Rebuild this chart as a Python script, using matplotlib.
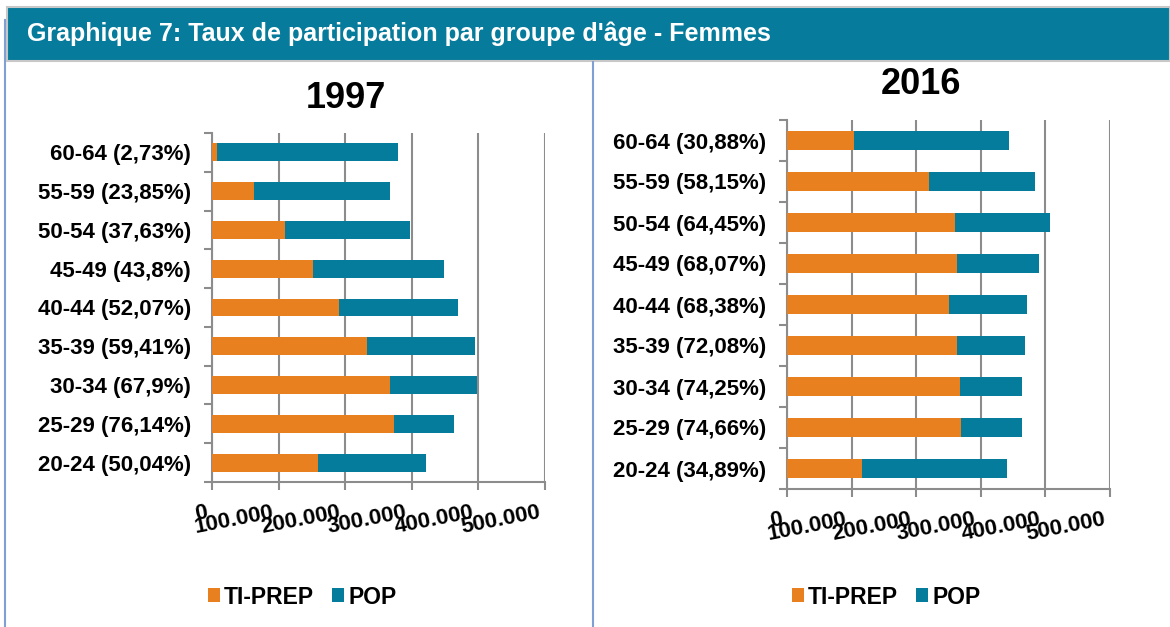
import matplotlib
matplotlib.use("Agg")
import matplotlib.pyplot as plt
from matplotlib.patches import Rectangle, Patch
from matplotlib.lines import Line2D
from matplotlib.transforms import ScaledTranslation

plt.rcParams['font.family'] = ['Liberation Sans', 'DejaVu Sans']

# ---------------- data ----------------
header_title = "Graphique 7: Taux de participation par groupe d'âge - Femmes"
series_names = ["TI-PREP", "POP"]

labels_1997 = ["60-64 (2,73%)", "55-59 (23,85%)", "50-54 (37,63%)", "45-49 (43,8%)",
               "40-44 (52,07%)", "35-39 (59,41%)", "30-34 (67,9%)", "25-29 (76,14%)",
               "20-24 (50,04%)"]
tiprep_1997 = [7000, 63000, 110000, 151000, 191000, 233000, 268000, 274000, 159000]
pop_1997 = [273000, 205000, 187000, 198000, 178000, 162000, 130000, 89000, 162000]

labels_2016 = ["60-64 (30,88%)", "55-59 (58,15%)", "50-54 (64,45%)", "45-49 (68,07%)",
               "40-44 (68,38%)", "35-39 (72,08%)", "30-34 (74,25%)", "25-29 (74,66%)",
               "20-24 (34,89%)"]
tiprep_2016 = [103000, 220000, 260000, 263000, 251000, 263000, 268000, 269000, 116000]
pop_2016 = [240000, 164000, 147000, 127000, 120000, 105000, 96000, 95000, 224000]

x_ticks = [0, 100000, 200000, 300000, 400000, 500000]
x_ticklabels = ["0", "100.000", "200.000", "300.000", "400.000", "500.000"]

# ---------------- style ----------------
ORANGE = "#E8801F"
TEAL = "#067C9C"
HEADER = "#077B9B"
GRID = "#8C8C8C"

W, H = 1170, 627
fig = plt.figure(figsize=(W / 100, H / 100), dpi=100)
fig.patch.set_facecolor("white")

def fx(px):
    return px / W

def fy(py):
    return 1 - py / H

# header band
fig.patches.append(Rectangle((fx(7), fy(61)), fx(1170) - fx(7), fy(7) - fy(61),
                             transform=fig.transFigure, facecolor=HEADER,
                             edgecolor="#C8C8C8", linewidth=1.5, zorder=0))
fig.text(fx(27), fy(34), header_title, color="white", fontsize=18,
         fontweight="bold", va="center", ha="left")

# frame lines
fig.lines.append(Line2D([fx(5), fx(5)], [fy(20), fy(627)], transform=fig.transFigure,
                        color="#7FA0D2", linewidth=1.5))
fig.lines.append(Line2D([fx(593), fx(593)], [fy(62), fy(627)], transform=fig.transFigure,
                        color="#7FA0D2", linewidth=1.5))


def panel(rect_px, labels, ti, pop, title, title_xy, legend_xy):
    x0, y0, x1, y1 = rect_px
    ax = fig.add_axes([fx(x0), fy(y1), fx(x1) - fx(x0), fy(y0) - fy(y1)])
    pos = list(range(len(labels)))
    ax.barh(pos, ti, height=0.46, color=ORANGE, zorder=3, label=series_names[0])
    ax.barh(pos, pop, left=ti, height=0.46, color=TEAL, zorder=3, label=series_names[1])
    ax.set_ylim(len(labels) - 0.5, -0.5)
    ax.set_xlim(0, 500000)
    ax.set_yticks(pos)
    ax.set_yticklabels(labels, fontsize=16, fontweight="bold")
    ax.tick_params(axis="y", which="major", length=0, pad=15)
    ax.set_yticks([p - 0.5 for p in pos] + [len(labels) - 0.5], minor=True)
    ax.tick_params(axis="y", which="minor", length=6, width=1.5, color=GRID, direction="out")
    ax.set_xticks(x_ticks)
    ax.set_xticklabels(x_ticklabels, fontsize=16, fontweight="bold",
                       rotation=11, ha="right", va="top", rotation_mode="anchor")
    ax.tick_params(axis="x", length=6, width=1.5, color=GRID, direction="out", pad=8)
    for lab in ax.get_xticklabels():
        lab.set_transform(lab.get_transform() + ScaledTranslation(-0.07, 0, fig.dpi_scale_trans))
    ax.grid(axis="x", color=GRID, linewidth=1.5, zorder=0)
    ax.set_axisbelow(True)
    for s in ["top", "right"]:
        ax.spines[s].set_visible(False)
    for s in ["left", "bottom"]:
        ax.spines[s].set_color(GRID)
        ax.spines[s].set_linewidth(1.5)
    fig.text(fx(title_xy[0]), fy(title_xy[1]), title, fontsize=26, fontweight="bold",
             ha="center", va="center")
    handles = [Patch(facecolor=ORANGE), Patch(facecolor=TEAL)]
    fig.legend(handles, series_names, loc="center", ncol=2, frameon=False,
               bbox_to_anchor=(fx(legend_xy[0]), fy(legend_xy[1])),
               prop={"size": 16.5, "weight": "bold"}, handlelength=0.55, handleheight=0.55,
               handletextpad=0.17, columnspacing=0.75)
    return ax


panel((212, 133, 545, 482), labels_1997, tiprep_1997, pop_1997, "1997", (346, 98), (302, 597))
panel((787, 120, 1110, 489), labels_2016, tiprep_2016, pop_2016, "2016", (921, 85), (886, 597))

fig.savefig("out.png", dpi=100, facecolor="white")
